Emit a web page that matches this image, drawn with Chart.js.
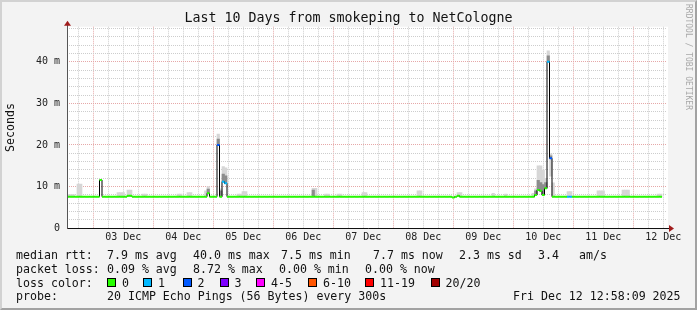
<!DOCTYPE html>
<html>
<head>
<meta charset="utf-8">
<title>smokeping - NetCologne</title>
<script src="https://cdn.jsdelivr.net/npm/chart.js@4.4.1/dist/chart.umd.min.js"></script>
<style>
  html, body { margin: 0; padding: 0; }
  body { width: 697px; height: 310px; position: relative; overflow: hidden; background: #f3f3f3;
         font-family: "DejaVu Sans Mono", monospace; color: #111; }
  #chart { position: absolute; left: 0; top: 0; }
  .frame { position: absolute; left: 0; top: 0; width: 697px; height: 310px; box-sizing: border-box;
           border: 2px solid; border-color: #d2d2d2 #a2a2a2 #a2a2a2 #d2d2d2; pointer-events: none; }
  .title { position: absolute; left: 0; top: 10px; width: 697px; text-align: center; font-size: 13.3px; line-height: 16px; }
  .mark { position: absolute; left: 684px; top: 4px; writing-mode: vertical-rl; font-size: 8px; line-height: 9px; color: #a8a8a8; }
  .t { position: absolute; font-size: 11.6px; line-height: 14px; white-space: pre; }
  .box { position: absolute; top: 278px; width: 9px; height: 9px; box-sizing: border-box; border: 1px solid #000; }
</style>
</head>
<body>
<canvas id="chart" width="697" height="310"></canvas>
<div class="title">Last 10 Days from smokeping to NetCologne</div>
<div class="mark">RRDTOOL / TOBI OETIKER</div>

<span class="t" style="left:16px;top:247.5px">median rtt:</span>
<span class="t" style="left:107px;top:247.5px">7.9 ms avg</span>
<span class="t" style="left:193px;top:247.5px">40.0 ms max</span>
<span class="t" style="left:281px;top:247.5px">7.5 ms min</span>
<span class="t" style="left:373px;top:247.5px">7.7 ms now</span>
<span class="t" style="left:459px;top:247.5px">2.3 ms sd</span>
<span class="t" style="left:538px;top:247.5px">3.4</span>
<span class="t" style="left:579px;top:247.5px">am/s</span>

<span class="t" style="left:16px;top:261.5px">packet loss:</span>
<span class="t" style="left:107px;top:261.5px">0.09 % avg</span>
<span class="t" style="left:193px;top:261.5px">8.72 % max</span>
<span class="t" style="left:279px;top:261.5px">0.00 % min</span>
<span class="t" style="left:365px;top:261.5px">0.00 % now</span>

<span class="t" style="left:16px;top:275.5px">loss color:</span>
<div id="lossLegend"></div>

<span class="t" style="left:16px;top:289px">probe:</span>
<span class="t" style="left:107px;top:289px">20 ICMP Echo Pings (56 Bytes) every 300s</span>
<span class="t" style="left:513px;top:289px">Fri Dec 12 12:58:09 2025</span>

<div class="frame"></div>

<script>
// one bin = 1 hour, bin 0 starts at Dec 02 13:30
const xTickLabels = ['03 Dec', '04 Dec', '05 Dec', '06 Dec', '07 Dec', '08 Dec', '09 Dec', '10 Dec', '11 Dec', '12 Dec'];
const yTickLabels = ['0', '10 m', '20 m', '30 m', '40 m'];
const firstMidnight = 10.5; // hours from left edge to 03 Dec 00:00
const spanHours = 240;
const yTop = 48.4;

// median rtt (ms), one row per 24 bins
const medianRtt = [
  7.6, 7.6, 7.6, 7.6, 7.6, 7.6, 7.6, 7.6, 7.6, 7.6, 7.6, 7.6, 7.6, 11.6, 7.6, 7.6, 7.6, 7.6, 7.6, 7.6, 7.6, 7.6, 7.6, 7.6,
  7.8, 7.8, 7.6, 7.6, 7.6, 7.6, 7.6, 7.6, 7.6, 7.6, 7.6, 7.6, 7.6, 7.6, 7.6, 7.6, 7.6, 7.6, 7.6, 7.6, 7.6, 7.6, 7.6, 7.6,
  7.6, 7.6, 7.6, 7.6, 7.6, 7.6, 7.6, 7.6, 8.4, 7.6, 7.6, 7.6, 20.0, 7.6, 11.2, 10.8, 7.6, 7.6, 7.6, 7.6, 7.6, 7.6, 7.6, 7.6,
  7.6, 7.6, 7.6, 7.6, 7.6, 7.6, 7.6, 7.6, 7.6, 7.6, 7.6, 7.6, 7.6, 7.6, 7.6, 7.6, 7.6, 7.6, 7.6, 7.6, 7.6, 7.6, 7.6, 7.6,
  7.6, 7.6, 7.6, 7.6, 7.6, 7.6, 7.6, 7.6, 7.6, 7.6, 7.6, 7.6, 7.6, 7.6, 7.6, 7.6, 7.6, 7.6, 7.6, 7.6, 7.6, 7.6, 7.6, 7.6,
  7.6, 7.6, 7.6, 7.6, 7.6, 7.6, 7.6, 7.6, 7.6, 7.6, 7.6, 7.6, 7.6, 7.6, 7.6, 7.6, 7.6, 7.6, 7.6, 7.6, 7.6, 7.6, 7.6, 7.6,
  7.6, 7.6, 7.6, 7.6, 7.6, 7.6, 7.6, 7.6, 7.6, 7.6, 7.4, 7.6, 7.8, 7.6, 7.6, 7.6, 7.6, 7.6, 7.6, 7.6, 7.6, 7.6, 7.6, 7.6,
  7.6, 7.6, 7.6, 7.6, 7.6, 7.6, 7.6, 7.6, 7.6, 7.6, 7.6, 7.6, 7.6, 7.6, 7.6, 7.6, 7.6, 7.6, 7.6, 8.0, 9.2, 9.0, 8.0, 9.6,
  40.0, 16.8, 7.6, 7.6, 7.6, 7.6, 7.6, 7.6, 7.6, 7.6, 7.6, 7.6, 7.6, 7.6, 7.6, 7.6, 7.6, 7.6, 7.6, 7.6, 7.6, 7.6, 7.6, 7.6,
  7.6, 7.6, 7.6, 7.6, 7.6, 7.6, 7.6, 7.6, 7.6, 7.6, 7.6, 7.6, 7.6, 7.6, 7.6, 7.6, 7.6, 7.6, 7.6, 7.6, 7.6, 7.6
];

// lost pings (of 20) for the bins that had any
const lossBins   = [60, 62, 63, 192, 193, 200, 201];
const lossCounts = [2, 1, 1, 1, 2, 1, 1];
const lossClassLabels = ['0', '1', '2', '3', '4-5', '6-10', '11-19', '20/20'];
const lossClassColors = ['#26ff00', '#00b8ff', '#0059ff', '#7e00ff', '#ff00ff', '#ff5500', '#ff0000', '#a10000'];

// smoke (spread of the 20 pings)
const smokeBins = [0, 1, 2, 4, 5, 20, 21, 22, 24, 25, 30, 31, 44, 45, 48, 49, 55, 56, 60, 61, 62, 63, 68, 69, 70, 71,
  98, 99, 103, 104, 108, 109, 118, 119, 140, 141, 156, 157, 170, 175, 186, 187, 188, 189, 190, 191, 192, 193, 194,
  200, 201, 212, 213, 214, 222, 223, 224, 236, 237];
const smokeLow = [7.6, 7.6, 7.6, 7.6, 7.6, 7.6, 7.6, 7.6, 7.8, 7.8, 7.6, 7.6, 7.6, 7.6, 7.6, 7.6, 7.6, 8.4, 20.0, 7.6, 11.2, 10.8, 7.6, 7.6, 7.6, 7.6,
  7.6, 7.6, 7.6, 7.6, 7.6, 7.6, 7.6, 7.6, 7.6, 7.6, 7.8, 7.6, 7.6, 7.6, 7.6, 8.0, 9.2, 9.0, 8.0, 9.6, 40.0, 12.5, 7.6,
  7.6, 7.6, 7.6, 7.6, 7.6, 7.6, 7.6, 7.6, 7.6, 7.6];
const smokeHigh = [8.1, 8.1, 8.1, 10.6, 10.6, 8.6, 8.6, 8.6, 9.2, 9.2, 8.2, 8.2, 8.2, 8.2, 8.6, 8.6, 9.0, 10.0, 22.6, 9.5, 14.8, 14.5, 8.2, 8.2, 8.8, 8.8,
  9.6, 9.6, 8.2, 8.2, 8.2, 8.2, 8.6, 8.6, 9.0, 9.0, 8.6, 8.6, 8.4, 8.2, 8.4, 9.5, 15.0, 15.0, 14.0, 12.0, 42.6, 17.9, 10.9,
  8.8, 8.8, 9.0, 9.0, 9.0, 9.2, 9.2, 9.2, 8.2, 8.2];
const darkBins = [56, 60, 61, 62, 63, 98, 187, 188, 189, 190, 191, 192, 193];
const darkLow  = [8.4, 20.0, 7.6, 11.2, 10.8, 7.6, 8.0, 9.2, 9.0, 8.0, 9.6, 40.0, 16.8];
const darkHigh = [9.4, 21.4, 9.0, 13.0, 12.6, 9.2, 9.0, 11.5, 11.0, 10.5, 11.0, 41.4, 17.4];

function lossClass(n) {
  if (n <= 3) return n;
  if (n <= 5) return 4;
  if (n <= 10) return 5;
  if (n <= 19) return 6;
  return 7;
}
function lossAt(bin) {
  const k = lossBins.indexOf(bin);
  return k < 0 ? 0 : lossCounts[k];
}

// loss colour legend row
const lossLegendX = [107, 143, 182.5, 219.5, 256, 308, 365, 430.5];
const legendHolder = document.getElementById('lossLegend');
lossClassLabels.forEach((label, i) => {
  const box = document.createElement('span');
  box.className = 'box';
  box.style.left = lossLegendX[i] + 'px';
  box.style.background = lossClassColors[i];
  legendHolder.appendChild(box);
  const txt = document.createElement('span');
  txt.className = 't';
  txt.style.left = (lossLegendX[i] + 15) + 'px';
  txt.style.top = '275.5px';
  txt.textContent = label;
  legendHolder.appendChild(txt);
});

const stepLine = medianRtt.map((v, i) => ({ x: i, y: v }));
stepLine.push({ x: medianRtt.length, y: medianRtt[medianRtt.length - 1] });

const gridMajor = '#e6a8a8';
const gridMinor = '#cdcdcd';

const plotFrame = {
  id: 'plotFrame',
  beforeDraw(chart) {
    const { ctx, chartArea: a } = chart;
    ctx.save();
    ctx.fillStyle = '#ffffff';
    ctx.fillRect(a.left, a.top, a.right - a.left + 1, a.bottom - a.top);
    ctx.restore();
  },
  afterDatasetsDraw(chart) {
    const { ctx, chartArea: a } = chart;
    const x0 = Math.round(a.left) + 0.5;
    const y0 = Math.round(a.bottom) + 0.5;
    ctx.save();
    ctx.lineWidth = 1;
    // y axis
    ctx.strokeStyle = '#555555';
    ctx.beginPath(); ctx.moveTo(x0, y0); ctx.lineTo(x0, a.top - 2); ctx.stroke();
    // x axis
    ctx.strokeStyle = '#111111';
    ctx.beginPath(); ctx.moveTo(x0, y0); ctx.lineTo(a.right + 2, y0); ctx.stroke();
    // arrows
    ctx.fillStyle = '#a01c1c';
    ctx.beginPath(); ctx.moveTo(x0, a.top - 6); ctx.lineTo(x0 - 3.5, a.top - 1); ctx.lineTo(x0 + 3.5, a.top - 1); ctx.closePath(); ctx.fill();
    ctx.beginPath(); ctx.moveTo(a.right + 7, y0); ctx.lineTo(a.right + 2, y0 - 3.5); ctx.lineTo(a.right + 2, y0 + 3.5); ctx.closePath(); ctx.fill();
    ctx.restore();
  }
};

new Chart(document.getElementById('chart'), {
  type: 'line',
  data: {
    datasets: [
      {
        // median coloured by packet loss (horizontal parts only)
        type: 'line',
        showLine: false,
        data: medianRtt.map((v, i) => ({ x: i + 0.5, y: v })),
        pointStyle: 'line',
        pointRadius: 1.3,
        pointBorderWidth: 2,
        pointBorderColor: medianRtt.map((v, i) => lossClassColors[lossClass(lossAt(i))]),
        pointBackgroundColor: medianRtt.map((v, i) => lossClassColors[lossClass(lossAt(i))]),
        order: 0
      },
      {
        type: 'line',
        data: stepLine,
        stepped: 'before',
        borderColor: '#000000',
        borderWidth: 1,
        pointRadius: 0,
        fill: false,
        order: 1
      },
      {
        type: 'bar',
        data: darkBins.map((b, k) => ({ x: b + 0.5, y: [darkLow[k], darkHigh[k]] })),
        backgroundColor: '#8c8c8c',
        grouped: false,
        barPercentage: 1,
        categoryPercentage: 1,
        borderWidth: 0,
        order: 2
      },
      {
        type: 'bar',
        data: smokeBins.map((b, k) => ({ x: b + 0.5, y: [smokeLow[k], smokeHigh[k]] })),
        backgroundColor: '#d6d6d6',
        grouped: false,
        barPercentage: 1,
        categoryPercentage: 1,
        borderWidth: 0,
        order: 3
      }
    ]
  },
  options: {
    responsive: false,
    animation: false,
    events: [],
    layout: { padding: { left: 0, top: 26.7, right: 30, bottom: 65.7 } },
    plugins: { legend: { display: false }, tooltip: { enabled: false } },
    scales: {
      x: {
        type: 'linear',
        min: 0,
        max: spanHours,
        offset: false,
        afterBuildTicks: (scale) => {
          const t = [];
          for (let h = firstMidnight % 6; h <= spanHours; h += 6) t.push({ value: h });
          scale.ticks = t;
        },
        afterFit: (scale) => { scale.height = 16; scale.paddingLeft = 0; scale.paddingRight = 0; },
        grid: {
          offset: false,
          drawTicks: false,
          color: (c) => ((c.tick && (c.tick.value - firstMidnight) % 24 === 0) ? gridMajor : gridMinor)
        },
        border: { display: false, dash: [1, 1] },
        ticks: {
          autoSkip: false,
          maxRotation: 0,
          padding: 3,
          color: '#222',
          font: { family: 'DejaVu Sans Mono', size: 10 },
          callback: (value) => {
            const d = (value - firstMidnight - 12) / 24;
            return (Number.isInteger(d) && d >= 0 && d < xTickLabels.length) ? xTickLabels[d] : '';
          }
        }
      },
      y: {
        min: 0,
        max: yTop,
        afterBuildTicks: (scale) => {
          const t = [];
          for (let v = 0; v <= yTop; v += 2) t.push({ value: v });
          scale.ticks = t;
        },
        afterFit: (scale) => { scale.width = 67; scale.paddingTop = 0; scale.paddingBottom = 0; },
        grid: {
          drawTicks: false,
          color: (c) => ((c.tick && c.tick.value % 10 === 0) ? gridMajor : gridMinor)
        },
        border: { display: false, dash: [1, 1] },
        ticks: {
          autoSkip: false,
          padding: 7,
          color: '#222',
          font: { family: 'DejaVu Sans Mono', size: 10 },
          callback: (value) => (value % 10 === 0 ? yTickLabels[value / 10] : '')
        },
        title: {
          display: true,
          text: 'Seconds',
          color: '#111',
          padding: { top: 4, bottom: 0 },
          font: { family: 'DejaVu Sans Mono', size: 11.6 }
        }
      }
    }
  },
  plugins: [plotFrame]
});
</script>
</body>
</html>
